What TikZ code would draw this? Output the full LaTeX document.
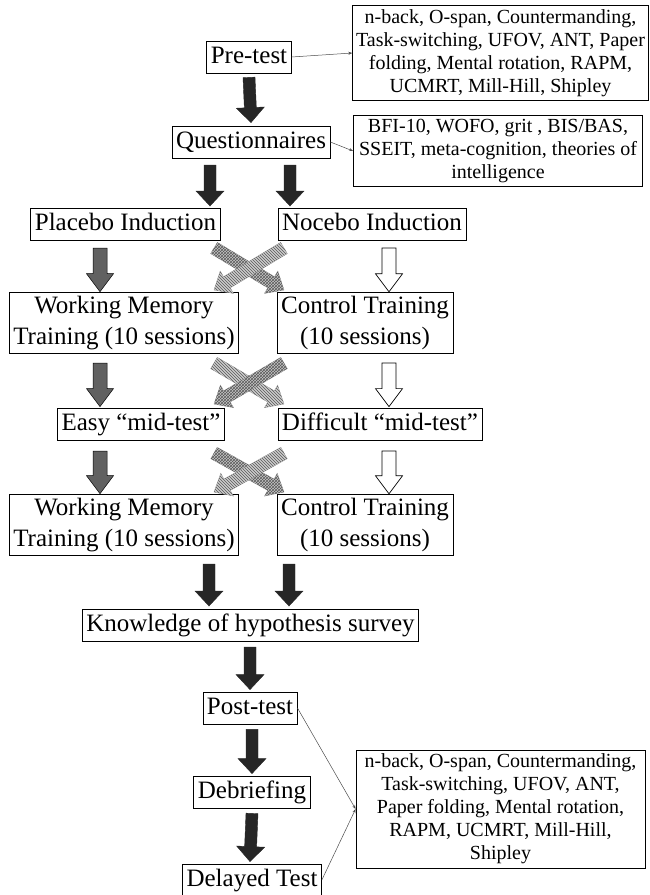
\documentclass[tikz,border=0pt]{standalone}
\usepackage{fontspec}
\setmainfont{Liberation Serif}
\usetikzlibrary{calc,patterns,arrows.meta}
\tikzset{
  box/.style={draw=black, line width=0.8pt, font=\fontsize{25}{30}\selectfont,
    inner xsep=4pt, inner ysep=4pt, text height=18pt, text depth=6pt},
  mbox/.style={draw=black, line width=0.8pt, font=\fontsize{25}{31}\selectfont,
    inner xsep=4pt, inner ysep=4pt, align=center},
  info/.style={draw=black, line width=0.8pt, font=\fontsize{20}{23}\selectfont,
    inner ysep=4pt, align=center, minimum width=289pt},
  thinline/.style={draw=gray!60!black, line width=0.5pt, -{Stealth[length=4pt,width=3pt]}},
  blk/.style={fill=black!85, draw=black!85, line width=0.4pt},
  gry/.style={fill=black!62, draw=black, line width=0.5pt},
  wht/.style={fill=white, draw=black, line width=0.7pt},
  crossA/.style={fill=gray!45, draw=gray!75, line width=0.4pt,
    postaction={pattern=crosshatch, pattern color=black!65}},
  crossB/.style={fill=gray!40, draw=gray!75, line width=0.4pt,
    postaction={pattern=north west lines, pattern color=black!65}},
}
% block arrow: #1 style, #2 from, #3 to, #4 half shaft, #5 half head, #6 head length
\newcommand{\blockarrow}[6]{%
  \path (#2); \pgfgetlastxy{\bax}{\bay}%
  \path (#3); \pgfgetlastxy{\bbx}{\bby}%
  \pgfmathsetmacro{\bang}{atan2((\bby)-(\bay),(\bbx)-(\bax))}%
  \pgfmathsetmacro{\blen}{veclen((\bbx)-(\bax),(\bby)-(\bay))}%
  \pgfmathsetmacro{\bhb}{\blen-#6}%
  \draw[#1, shift={(\bax,\bay)}, rotate=\bang]
    (0pt,-#4pt) -- (\bhb pt,-#4pt) -- (\bhb pt,-#5pt) -- (\blen pt,0pt)
    -- (\bhb pt,#5pt) -- (\bhb pt,#4pt) -- (0pt,#4pt) -- cycle;%
}
\newcommand{\vblk}[2]{\blockarrow{blk}{#1}{#2}{6}{14}{15}}
\newcommand{\vgry}[2]{\blockarrow{gry}{#1}{#2}{7}{13.5}{18}}
\newcommand{\vwht}[2]{\blockarrow{wht}{#1}{#2}{7}{13.5}{18}}
\newcommand{\crossing}[5]{% #1 y top, #2 y bottom, #3 name prefix, #4 #5 styles
  \coordinate (#3a1) at (214,#1); \coordinate (#3a2) at (284,#2);
  \coordinate (#3b1) at (284,#1); \coordinate (#3b2) at (214,#2);
  \blockarrow{#4}{#3a1}{#3a2}{6.5}{13}{15}
  \blockarrow{#5}{#3b1}{#3b2}{6.5}{13}{15}
}
\begin{document}
\begin{tikzpicture}[x=1pt,y=-1pt]
\useasboundingbox (0,0) rectangle (649,895);
\clip (0,0) rectangle (649,895);

% nodes
\node[box] (pre) at (249,57) {Pre-test};
\node[info] (info1) at (500.5,53) {n-back, O-span, Countermanding,\\Task-switching, UFOV, ANT, Paper\\folding, Mental rotation, RAPM,\\UCMRT, Mill-Hill, Shipley};
\node[box] (quest) at (251,142) {Questionnaires};
\node[info] (info2) at (498,151) {BFI-10, WOFO, grit , BIS/BAS,\\SSEIT, meta-cognition, theories of\\intelligence};
\node[box] (plac) at (125.5,224) {Placebo Induction};
\node[box] (noc) at (372,224) {Nocebo Induction};
\node[mbox] (wm1) at (124,323) {Working Memory\\Training (10 sessions)};
\node[mbox] (ct1) at (365,323) {Control Training\\(10 sessions)};
\node[box] (easy) at (141,424) {Easy “mid-test”};
\node[box] (diff) at (380,424) {Difficult “mid-test”};
\node[mbox] (wm2) at (124,525) {Working Memory\\Training (10 sessions)};
\node[mbox] (ct2) at (365,525) {Control Training\\(10 sessions)};
\node[box] (know) at (250.5,625) {Knowledge of hypothesis survey};
\node[box] (post) at (250,708) {Post-test};
\node[box] (debr) at (252,792) {Debriefing};
\node[box] (del) at (252,880) {Delayed Test};
\node[info] (info3) at (500.5,809) {n-back, O-span, Countermanding,\\Task-switching, UFOV, ANT,\\Paper folding, Mental rotation,\\RAPM, UCMRT, Mill-Hill,\\Shipley};

% thin connectors
\draw[thinline] (pre.east) -- (info1.west);
\draw[thinline] (quest.east) -- (info2.west);
\draw[thinline] (post.east) -- (info3.west);
\draw[thinline] (del.east) -- (info3.west);

% black arrows
\coordinate (a1s) at ($(pre.south)+(0,4)$); \coordinate (a1e) at ($(quest.north)+(0,-3)$);
\vblk{a1s}{a1e}
\coordinate (a2s) at (210,165); \coordinate (a2e) at (210,206);
\coordinate (a3s) at (290,165); \coordinate (a3e) at (290,206);
\vblk{a2s}{a2e} \vblk{a3s}{a3e}

% placebo / nocebo -> training
\coordinate (g1s) at (100,248); \coordinate (g1e) at ($(wm1.north)+(-24,0)$);
\vgry{g1s}{g1e}
\coordinate (w1s) at (389,248); \coordinate (w1e) at ($(ct1.north)+(24,0)$);
\vwht{w1s}{w1e}
\crossing{248}{290}{c1}{crossA}{crossB}

% training -> mid-test
\coordinate (g2s) at (100,363); \coordinate (g2e) at ($(easy.north)+(-41,-1)$);
\vgry{g2s}{g2e}
\coordinate (w2s) at (389,363); \coordinate (w2e) at ($(diff.north)+(9,-1)$);
\vwht{w2s}{w2e}
\crossing{363}{404}{c2}{crossB}{crossA}

% mid-test -> training
\coordinate (g3s) at (100,451); \coordinate (g3e) at ($(wm2.north)+(-24,0)$);
\vgry{g3s}{g3e}
\coordinate (w3s) at (389,451); \coordinate (w3e) at ($(ct2.north)+(24,0)$);
\vwht{w3s}{w3e}
\crossing{453}{492}{c3}{crossA}{crossB}

% training -> knowledge
\coordinate (k1s) at (209,564); \coordinate (k1e) at (209,606);
\coordinate (k2s) at (289,564); \coordinate (k2e) at (289,606);
\vblk{k1s}{k1e} \vblk{k2s}{k2e}

% bottom chain
\coordinate (p1s) at (250,647); \coordinate (p1e) at ($(post.north)+(0,-2)$);
\vblk{p1s}{p1e}
\coordinate (p2s) at ($(post.south)+(2,5)$); \coordinate (p2e) at ($(debr.north)+(0,-2)$);
\vblk{p2s}{p2e}
\coordinate (p3s) at ($(debr.south)+(0,5)$); \coordinate (p3e) at ($(del.north)+(-2,-2)$);
\vblk{p3s}{p3e}
\end{tikzpicture}
\end{document}
